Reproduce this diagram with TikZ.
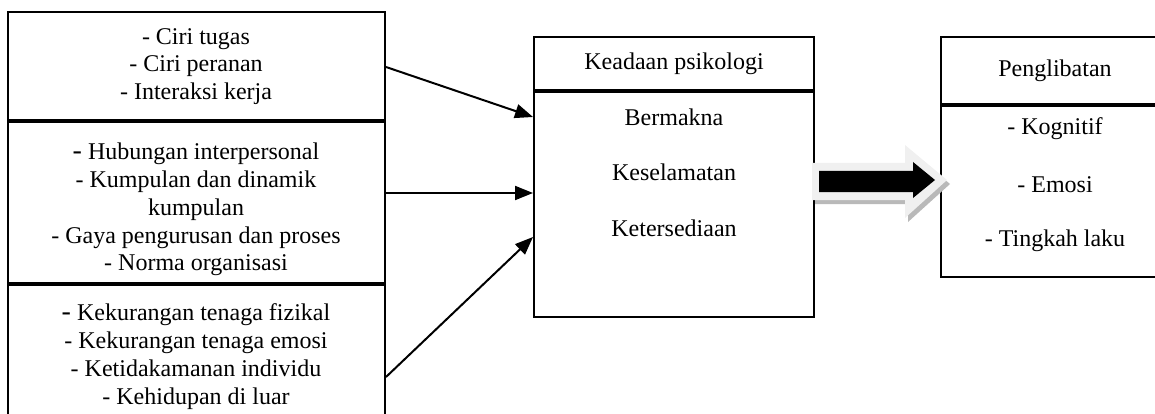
\documentclass[tikz,border=0pt]{standalone}
\usepackage{fontspec}
\setmainfont{Liberation Serif}
\usepackage{tikz}
\usetikzlibrary{arrows.meta,positioning}

\newcommand{\bigdash}{{\fontsize{28}{28}\selectfont -}}

\begin{document}
\begin{tikzpicture}[x=1pt,y=-1pt,node distance=0pt,
    >={Triangle[length=18pt,width=14pt]}]
    \tikzset{box/.style={draw,rectangle,line width=2pt,inner sep=0pt},
             txt/.style={align=center,inner sep=0pt,
               font=\fontsize{24}{27.8}\selectfont}}
    \useasboundingbox (0,0) rectangle (1155,414);
    \clip (0,0) rectangle (1155,414);
    % left column
    \node[box,minimum width=377pt,minimum height=108pt] (f1) at (196.5,66) {};
    \node[box,minimum width=377pt,minimum height=161pt,below=of f1] (f2) {};
    \node[box,minimum width=377pt,minimum height=160pt,below=of f2] (f3) {};
    \node[txt] (t1) at (196,66.5) {- Ciri tugas\\- Ciri peranan\\- Interaksi kerja};
    \node[txt] (t2) at (196,209.5) {\bigdash\ Hubungan interpersonal\\- Kumpulan dan dinamik\\kumpulan\\- Gaya pengurusan dan proses\\- Norma organisasi};
    \node[txt] (t3) at (196,356.5) {\bigdash\ Kekurangan tenaga fizikal\\- Kekurangan tenaga emosi\\- Ketidakamanan individu\\- Kehidupan di luar};
    % middle box
    \node[box,minimum width=280pt,minimum height=53pt] (psih) at (674,63.5) {};
    \node[box,minimum width=280pt,minimum height=225pt,below=of psih] (psib) {};
    \node[txt] (ps) at (psih) {Keadaan psikologi};
    \node[txt] (p1) at (674,117) {Bermakna};
    \node[txt] (p2) at (674,172) {Keselamatan};
    \node[txt] (p3) at (674,228) {Ketersediaan};
    % right box
    \node[box,minimum width=228pt,minimum height=67pt] (libh) at (1055,70.5) {};
    \node[box,minimum width=228pt,minimum height=171pt,below=of libh] (libb) {};
    \node[txt] (lb) at (libh) {Penglibatan};
    \node[txt] (l1) at (1055,129) {- Kognitif};
    \node[txt] (l2) at (1055,185) {- Emosi};
    \node[txt] (l3) at (1055,241) {- Tingkah laku};
    % arrow ends
    \coordinate (a1) at (f1.east |- 0,67);
    \coordinate (a2) at (f2.east |- 0,193);
    \coordinate (a3) at (f3.east |- 0,377);
    \coordinate (b1) at (psib.west |- 0,117);
    \coordinate (b2) at (psib.west |- 0,193);
    \coordinate (b3) at (psib.west |- 0,237);
    \draw[->,line width=2pt] (a1) -- (b1);
    \draw[->,line width=2pt] (a2) -- (b2);
    \draw[->,line width=2pt] (a3) -- (b3);
    % block arrow
    \fill[gray!55] (815,167) -- (908,167) -- (908,149) -- (950,184) -- (908,222) -- (908,204) -- (815,204) -- cycle;
    \fill[gray!12] (812,163) -- (905,163) -- (905,145) -- (947,180) -- (905,218) -- (905,200) -- (812,200) -- cycle;
    \fill[black] (819,171) -- (913,171) -- (913,162) -- (935,180) -- (913,198) -- (913,192) -- (819,192) -- cycle;
\end{tikzpicture}
\end{document}
